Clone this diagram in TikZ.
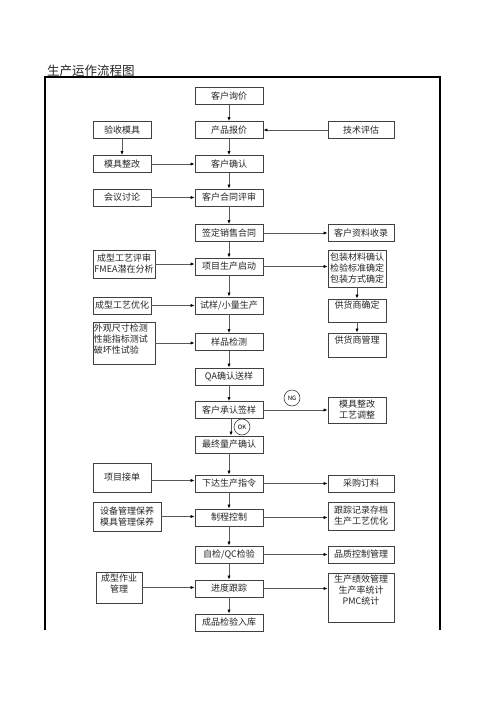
\documentclass[tikz,border=0pt]{standalone}
\usepackage{fontspec}
\newfontfamily\cjk{Noto Sans CJK SC}
\usetikzlibrary{arrows.meta}
\begin{document}
\begin{tikzpicture}[x=1pt,y=-1pt,
  box/.style={draw=black!75, line width=0.8pt, inner sep=0pt, align=center, font=\cjk\fontsize{9}{11}\selectfont, text=black!85},
  cbox/.style={box, minimum width=68pt, minimum height=17pt},
  lbox/.style={box, minimum width=58pt, minimum height=17pt},
  rbox/.style={box, minimum width=66pt, minimum height=17pt},
  txt/.style={inner sep=0pt, align=center, font=\cjk\fontsize{9}{11}\selectfont, text=black!85},
  arr/.style={draw=black!65, line width=0.7pt, -{Latex[length=4pt,width=3.2pt,color=black]}},
  tag/.style={circle, draw=black!75, line width=0.6pt, minimum size=16pt, inner sep=0pt, font=\cjk\fontsize{6}{6}\selectfont}
]
\useasboundingbox (0,0) rectangle (500,707);
\fill[white] (0,0) rectangle (500,707);

% title and frame
\node[anchor=base west, inner sep=0pt, font=\cjk\fontsize{12.5}{14}\selectfont, text=black!85] (title) at (47,75) {生产运作流程图};
\draw[line width=1.3pt] (45,630) -- (45,77) -- (440,77) -- (440,630);

% centre column
\node[cbox] (q1) at (229,96) {客户询价};
\node[cbox] (q2) at (229,130) {产品报价};
\node[cbox] (q3) at (229,164) {客户确认};
\node[cbox] (q4) at (229,197.5) {客户合同评审};
\node[cbox] (q5) at (229,233) {签定销售合同};
\node[cbox] (q6) at (229,266.5) {项目生产启动};
\node[cbox] (q7) at (229,305.5) {试样/小量生产};
\node[cbox] (q8) at (229,342) {样品检测};
\node[cbox] (q9) at (229,376.5) {QA确认送样};
\node[cbox] (q10) at (229,410) {客户承认签样};
\node[cbox] (q11) at (229,444.5) {最终量产确认};
\node[cbox] (q12) at (229,483.5) {下达生产指令};
\node[cbox] (q13) at (229,517.5) {制程控制};
\node[cbox] (q14) at (229,554.5) {自检/QC检验};
\node[cbox] (q15) at (229,588.5) {进度跟踪};
\node[cbox] (q16) at (229,622.5) {成品检验入库};

% left column
\node[lbox] (l1) at (122,130) {验收模具};
\node[lbox] (l2) at (122,164) {模具整改};
\node[lbox] (l3) at (122,197.5) {会议讨论};
\node[box, minimum width=62pt, minimum height=28pt] (l4) at (124,264) {成型工艺评审\\FMEA潜在分析};
\node[lbox] (l5) at (122,305.5) {成型工艺优化};
\node[box, minimum width=62pt, minimum height=42pt] (l6) at (124,343) {};
\node[txt, anchor=north west, align=left] (l6t) at ([xshift=1pt,yshift=-2pt]l6.north west) {外观尺寸检测\\性能指标测试\\破坏性试验};
\node[box, minimum width=58pt, minimum height=29pt] (l7) at (122,477.5) {项目接单};
\node[box, minimum width=68pt, minimum height=29pt] (l8) at (127,516.5) {设备管理保养\\模具管理保养};
\node[box, minimum width=46pt, minimum height=31pt] (l9) at (119,587.5) {};
\node[txt, anchor=north] (l9t) at ([yshift=-2pt]l9.north) {成型作业\\管理};

% right column
\node[rbox] (r1) at (361,130) {技术评估};
\node[rbox] (r2) at (361,233) {客户资料收录};
\node[box, minimum width=58pt, minimum height=37pt] (r3) at (357,268.5) {包装材料确认\\检验标准确定\\包装方式确定};
\node[box, minimum width=58pt, minimum height=23pt] (r4) at (357,310.5) {};
\node[txt, anchor=north] (r4t) at ([yshift=-2pt]r4.north) {供货商确定};
\node[box, minimum width=58pt, minimum height=24pt] (r5) at (357,345) {};
\node[txt, anchor=north] (r5t) at ([yshift=-3pt]r5.north) {供货商管理};
\node[box, minimum width=58pt, minimum height=26pt] (r6) at (357,410) {模具整改\\工艺调整};
\node[rbox] (r7) at (361,483.5) {采购订料};
\node[box, minimum width=66pt, minimum height=28pt] (r8) at (361,516) {跟踪记录存档\\生产工艺优化};
\node[rbox] (r9) at (361,554.5) {品质控制管理};
\node[box, minimum width=66pt, minimum height=49pt] (r10) at (361,597.5) {};
\node[txt, anchor=north] (r10t) at ([yshift=-2pt]r10.north) {生产绩效管理\\生产率统计\\PMC统计};

% tags
\node[tag] (ng) at (292,398) {NG};
\node[tag] (ok) at (242,427) {OK};

% centre chain
\draw[arr] (q1) -- (q2);
\draw[arr] (q2) -- (q3);
\draw[arr] (q3) -- (q4);
\draw[arr] (q4) -- (q5);
\draw[arr] (q5) -- (q6);
\draw[arr] (q6) -- (q7);
\draw[arr] (q7) -- (q8);
\draw[arr] (q8) -- (q9);
\draw[arr] (q9) -- (q10);
\draw[arr] ([xshift=2pt]q10.south) -- ([xshift=2pt]q11.north);
\draw[arr] (q11) -- (q12);
\draw[arr] (q12) -- (q13);
\draw[arr] (q13) -- (q14);
\draw[arr] (q14) -- (q15);
\draw[arr] (q15) -- (q16);

% left inputs
\draw[arr] (l1) -- (l2);
\draw[arr] (l2) -- (q3);
\draw[arr] (l3) -- (q4);
\draw[arr] (l4.east) -- (l4.east -| q6.west);
\draw[arr] (l5) -- (q7);
\draw[arr] (l6.east) -- (l6.east -| q8.west);
\draw[arr] ([yshift=-3pt]l7.east) -- ([yshift=-3pt]l7.east -| q12.west);
\draw[arr] (l8.east) -- (l8.east -| q13.west);
\draw[arr] (l9.east) -- (l9.east -| q15.west);

% right side
\draw[arr] (r1) -- (q2);
\draw[arr] (q5) -- (r2);
\draw[arr] (q6.east) -- (q6.east -| r3.west);
\draw[arr] (r3) -- (r4);
\draw[arr] (r4) -- (r5);
\draw[arr] (q10.east) -- (q10.east -| r6.west);
\draw[arr] (q12) -- (r7);
\draw[arr] (q13.east) -- (q13.east -| r8.west);
\draw[arr] (q14) -- (r9);
\draw[arr] (q15.east) -- (q15.east -| r10.west);
\end{tikzpicture}
\end{document}
